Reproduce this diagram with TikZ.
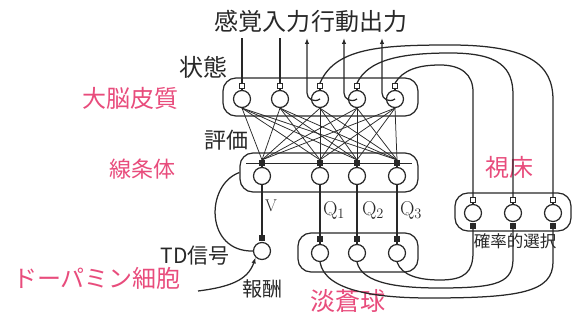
\documentclass[tikz,border=0pt]{standalone}
\usepackage{fontspec}
\newfontfamily\jp{Noto Sans CJK JP}
\usetikzlibrary{arrows.meta}
\definecolor{pk}{RGB}{232,76,124}
\definecolor{ln}{RGB}{40,40,40}
\begin{document}
\begin{tikzpicture}[x=1pt,y=-1pt,line width=1.25pt,ln,
  neuron/.style={circle,draw,minimum size=17pt,inner sep=0pt,fill=white},
  exc/.style={rectangle,draw,minimum size=5pt,inner sep=0pt,fill=white,line width=0.8pt},
  inh/.style={rectangle,draw,fill=ln,minimum size=5pt,inner sep=0pt},
  region/.style={draw,rounded corners=13pt,inner sep=0pt},
  pinklabel/.style={text=pk,inner sep=0pt},
  lbl/.style={inner sep=0pt},
  sig/.style={-{Latex[length=6pt,width=4.5pt]}},
  mesh/.style={line width=0.75pt},
]
\useasboundingbox (0,0) rectangle (572,320);

% regions
\node[region,minimum width=195pt,minimum height=38pt] (cbox) at (320.5,97) {};
\node[region,minimum width=178pt,minimum height=39pt] (sbox) at (329,172.5) {};
\node[region,minimum width=120pt,minimum height=39pt] (gbox) at (358,252.5) {};
\node[region,minimum width=116pt,minimum height=38pt] (tbox) at (513,212) {};

% cortex neurons
\foreach \i/\x in {1/242,2/280,3/320,4/357,5/395}{
  \node[neuron] (c\i) at (\x,99) {};
  \node[exc] (cq\i) at (\x,86) {};
  \draw (cq\i) -- (c\i);
}
% striatum neurons
\foreach \i/\x in {1/262,2/320,3/357,4/397}{
  \node[neuron] (s\i) at (\x,176) {};
  \node[inh] (sq\i) at (\x,163) {};
  \draw (sq\i) -- (s\i);
}
\draw[line width=0.8pt] (246,163) -- (412,163);
% globus pallidus neurons
\foreach \i/\x in {1/320,2/357,3/397}{
  \node[neuron] (g\i) at (\x,253) {};
  \node[inh] (gq\i) at (\x,239) {};
  \draw (gq\i) -- (g\i);
}
% thalamus neurons
\foreach \i/\x in {1/473,2/513,3/553}{
  \node[neuron] (t\i) at (\x,213) {};
  \node[exc] (tq\i) at (\x,200) {};
  \node[inh] (tb\i) at (\x,226) {};
  \draw (tq\i) -- (t\i);
}
% dopamine neuron
\node[neuron] (d) at (262,251) {};
\node[inh] (dq) at (262,238) {};

% labels
\node[lbl,anchor=east,font=\jp\fontsize{24}{26}\selectfont] (sen) at (311,21) {感覚入力};
\node[lbl,anchor=west,font=\jp\fontsize{24}{26}\selectfont] (act) at (311,21) {行動出力};
\node[lbl,font=\jp\fontsize{24}{26}\selectfont] (state) at (203,67) {状態};
\node[lbl,font=\jp\fontsize{22}{24}\selectfont] (eval) at (226,140) {評価};
\node[pinklabel,font=\jp\fontsize{24}{26}\selectfont] (lctx) at (130,98) {大脳皮質};
\node[pinklabel,font=\jp\fontsize{22}{24}\selectfont] (lstr) at (142,169) {線条体};
\node[pinklabel,font=\jp\fontsize{24}{26}\selectfont] (lthal) at (509,167) {視床};
\node[pinklabel,font=\jp\fontsize{25}{27}\selectfont] (lgp) at (348,301) {淡蒼球};
\node[pinklabel,font=\jp\fontsize{24}{26}\selectfont] (lda) at (97,278) {ドーパミン細胞};
\node[lbl,font=\jp\fontsize{21}{23}\selectfont] (td) at (195,256) {TD信号};
\node[lbl,font=\jp\fontsize{20}{22}\selectfont] (rew) at (262,289) {報酬};
\node[lbl,font=\jp\fontsize{16.5}{18}\selectfont] (sel) at (515,241) {確率的選択};
\node[lbl,font=\fontsize{17}{19}\selectfont] (lv) at (271,206) {V};
\node[lbl,font=\fontsize{20}{22}\selectfont] (lq1) at (334,210) {Q$_1$};
\node[lbl,font=\fontsize{20}{22}\selectfont] (lq2) at (373,210) {Q$_2$};
\node[lbl,font=\fontsize{20}{22}\selectfont] (lq3) at (411,210) {Q$_3$};

% sensory inputs
\draw (cq1.north) -- ++(0,-45.5);
\draw (cq2.north) -- ++(0,-45.5);
% action outputs
\foreach \i in {3,4,5}{
  \draw[sig] (c\i.center) .. controls +(-6,4) and +(0,6) .. ++(-13,-6) -- ++(0,-55);
}
% cortex -> striatum mesh
\foreach \i in {1,...,5}{
  \foreach \j in {1,...,4}{
    \draw[mesh] (c\i.south) -- (sq\j.north);
  }
}
% thalamus -> cortex loops
\draw (cq3.north) .. controls (335,48) and (380,45) .. (450,45) .. controls (530,45) and (553,65) .. (553,100) -- (tq3.north);
\draw (cq4.north) .. controls (368,60) and (400,53) .. (450,53) .. controls (500,53) and (513,68) .. (513,95) -- (tq2.north);
\draw (cq5.north) .. controls (403,70) and (418,65) .. (440,65) .. controls (462,65) and (473,75) .. (473,92) -- (tq1.north);
% striatum -> GP / dopamine
\draw (s1.south) -- (dq.north);
\draw (s2.south) -- (gq1.north);
\draw (s3.south) -- (gq2.north);
\draw (s4.south) -- (gq3.north);
% GP -> thalamus
\draw (g1.south) .. controls (325,292) and (380,298) .. (430,298) .. controls (520,298) and (553,292) .. (553,262) -- (tb3.south);
\draw (g2.south) .. controls (362,284) and (400,288) .. (440,288) .. controls (500,288) and (513,282) .. (513,258) -- (tb2.south);
\draw (g3.south) .. controls (402,276) and (420,280) .. (440,280) .. controls (465,280) and (473,272) .. (473,252) -- (tb1.south);
% TD signal
\draw (d.west) .. controls (205,252) and (205,185) .. (sbox.west);
% reward
\coordinate (rw) at (198,291);
\draw[sig] (rw) .. controls (230,287) and (248,280) .. (d.south west);
\end{tikzpicture}
\end{document}
